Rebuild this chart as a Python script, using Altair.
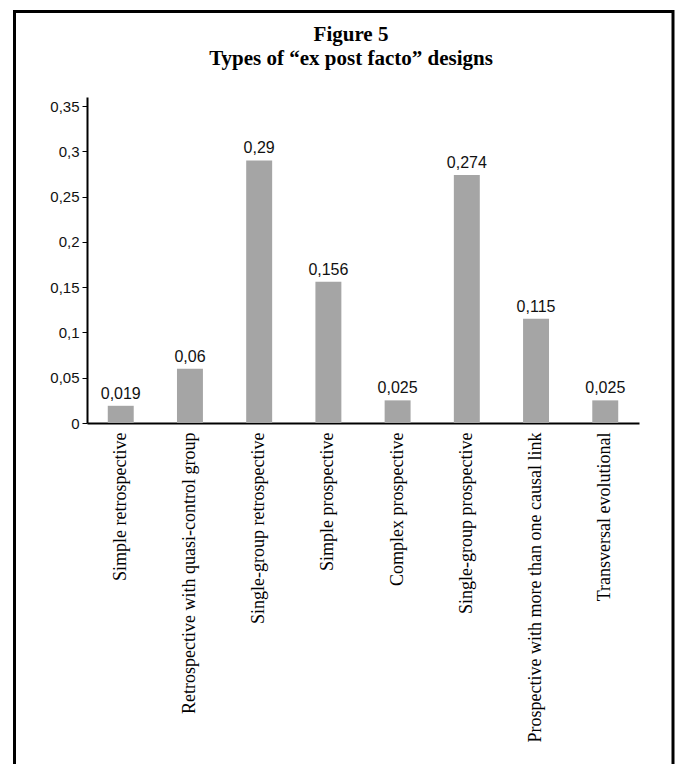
import altair as alt
import pandas as pd

# Proportion of studies by "ex post facto" design type
categories = [
    "Simple retrospective",
    "Retrospective with quasi-control group",
    "Single-group retrospective",
    "Simple prospective",
    "Complex prospective",
    "Single-group prospective",
    "Prospective with more than one causal link",
    "Transversal evolutional",
]
values = [0.019, 0.06, 0.29, 0.156, 0.025, 0.274, 0.115, 0.025]
y_ticks = [0, 0.05, 0.1, 0.15, 0.2, 0.25, 0.3, 0.35]
title_lines = ["Figure 5", "Types of \u201cex post facto\u201d designs"]

df = pd.DataFrame({"design": categories, "share": values})

W, H = 552, 326
SERIF = "Liberation Serif"
SANS = "Liberation Sans"

x_enc = alt.X(
    "design:N",
    sort=categories,
    title=None,
    scale=alt.Scale(paddingInner=0.625, paddingOuter=0.3),
    axis=alt.Axis(
        labelAngle=-90,
        labelAlign="right",
        labelBaseline="middle",
        labelFont=SERIF,
        labelFontSize=18,
        labelColor="black",
        labelPadding=9,
        labelLimit=400,
        ticks=False,
        domainColor="black",
        domainWidth=2,
    ),
)
y_enc = alt.Y(
    "share:Q",
    title=None,
    scale=alt.Scale(domain=[0, 0.36], nice=False),
    axis=alt.Axis(
        values=y_ticks,
        labelExpr="replace(format(datum.value, '.2~f'), '.', ',')",
        labelFont=SANS,
        labelFontSize=15,
        labelColor="#111",
        labelPadding=3,
        tickSize=5,
        tickColor="black",
        domainColor="black",
        domainWidth=2,
        grid=False,
    ),
)

base = alt.Chart(df).encode(x=x_enc, y=y_enc)

bars = base.mark_bar(color="#a5a5a5")

labels = base.transform_calculate(
    lbl="replace(format(datum.share, '.3~f'), '.', ',')"
).mark_text(
    baseline="bottom", dy=-4, font=SANS, fontSize=16, color="#111"
).encode(text="lbl:N")

# Heading: two centred lines above the plot
head1 = alt.Chart(pd.DataFrame({"t": [title_lines[0]]})).mark_text(
    font=SERIF, fontSize=21, fontWeight="bold", color="black", baseline="alphabetic"
).encode(text="t:N", x=alt.value(264), y=alt.value(-56))
head2 = alt.Chart(pd.DataFrame({"t": [title_lines[1]]})).mark_text(
    font=SERIF, fontSize=21, fontWeight="bold", color="black", baseline="alphabetic"
).encode(text="t:N", x=alt.value(264), y=alt.value(-32))

# Outer frame around the whole figure
frame = alt.Chart(pd.DataFrame({"f": [0]})).mark_rect(
    filled=False, stroke="black", strokeWidth=3
).encode(
    x=alt.value(-72.5), x2=alt.value(586), y=alt.value(-85.5), y2=alt.value(700)
)

chart = alt.layer(frame, bars, labels, head1, head2).properties(
    width=W,
    height=H,
    padding={"left": 13, "top": 10, "right": 1, "bottom": 0},
    background="white",
).configure_view(stroke=None)

chart.save("out.html", embed_options={"renderer": "svg", "actions": False})
